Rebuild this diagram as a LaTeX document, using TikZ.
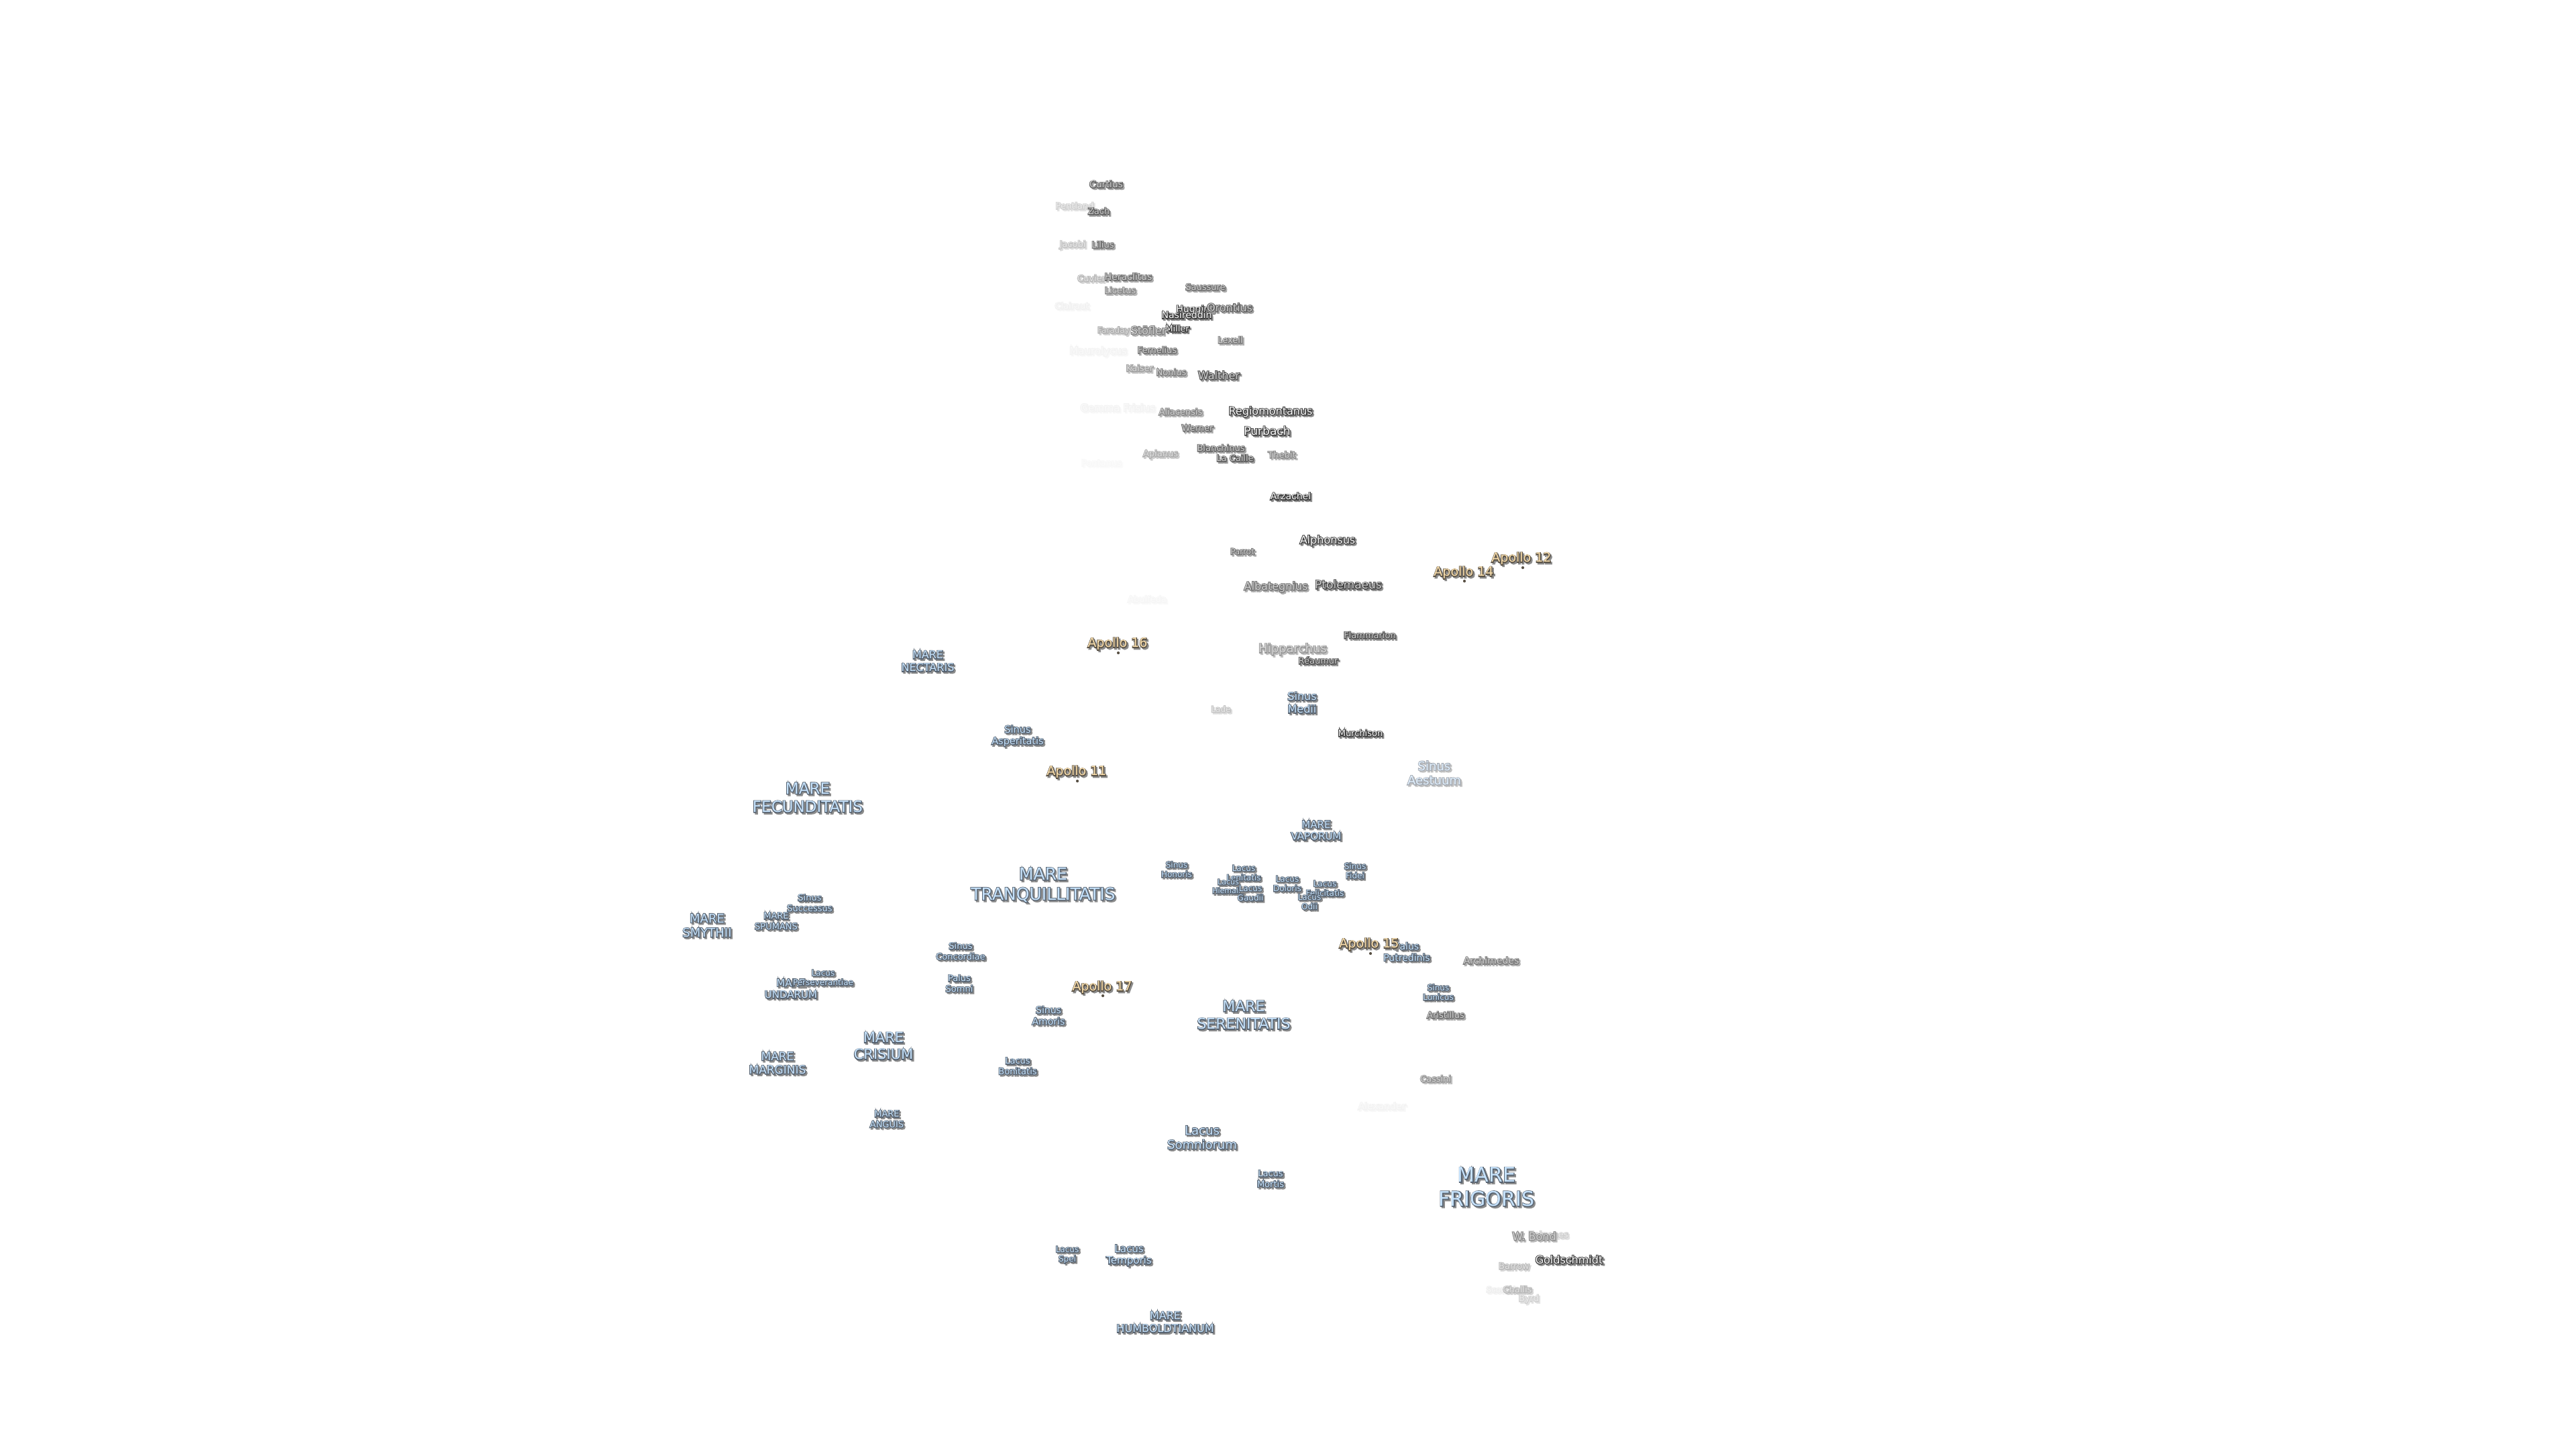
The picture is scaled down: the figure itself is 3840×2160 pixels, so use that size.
\documentclass[tikz,border=0pt]{standalone}
\usepackage{fontspec}
\setmainfont{DejaVu Sans}
\definecolor{marefill}{HTML}{C6E2FB}
\definecolor{mareedge}{HTML}{566270}
\definecolor{craterfill}{HTML}{CFCFCF}
\definecolor{crateredge}{HTML}{3A3A3A}
\definecolor{apollofill}{HTML}{FBE0AE}
\definecolor{apolloedge}{HTML}{5A5246}
\definecolor{lblshadow}{HTML}{8C8C8C}
\newdimen\pxu \pxu=0.2845pt
\newdimen\lblsize \newdimen\lblskip
\newcommand{\lyr}[4]{\rlap{\kern#1\pxu\raisebox{#2\pxu}{\color{#3}\special{pdf:code 2 Tr 0.62 w}\begin{tabular}{@{}c@{}}#4\end{tabular}\special{pdf:code 0 Tr}}}}
\newcommand{\lbl}[2]{\lblsize=#1\pxu \lblskip=1.19\lblsize \fontsize{\the\lblsize}{\the\lblskip}\selectfont
  \lyr{2.2}{-2.2}{\lblshade}{#2}\lyr{0}{0}{\lbledge}{#2}%
  \color{\lblfill}\begin{tabular}{@{}c@{}}#2\end{tabular}}
\tikzset{
  setfade/.code={\pgfmathsetmacro\lblfade{min(100,#1*1.2)}\pgfmathsetmacro\lblwhite{#1>84 ? 10 : min(100,#1*2)}},
  marelabel/.style={inner sep=0pt, yshift=-1pt, setfade=#1, execute at begin node={\def\lblfill{marefill!\lblfade!white}\def\lbledge{mareedge!\lblfade!white}\def\lblshade{lblshadow!\lblfade!white}}},
  marelabel/.default=100,
  craterlabel/.style={inner sep=0pt, yshift=-1pt, setfade=#1, execute at begin node={\def\lblfill{craterfill!\lblwhite!white}\def\lbledge{crateredge!\lblfade!white}\def\lblshade{lblshadow!\lblfade!white}}},
  craterlabel/.default=100,
  apollolabel/.style={inner sep=0pt, yshift=-1pt, execute at begin node={\def\lblfill{apollofill}\def\lbledge{apolloedge}\def\lblshade{lblshadow}}},
  apollodot/.style={fill=apolloedge}
}
\begin{document}
\begin{tikzpicture}[x=0.01cm, y=-0.01cm]
  \useasboundingbox (0,0) rectangle (3840,2160);
  % faint craters first
  \node[craterlabel=20] (pentland) at (1602,306) {\lbl{13}{Pentland}};
  \node[craterlabel=25] (jacobi) at (1599,363) {\lbl{13}{Jacobi}};
  \node[craterlabel=30] (cuvier) at (1627,414) {\lbl{13}{Cuvier}};
  \node[craterlabel=6] (clairaut) at (1598,455) {\lbl{13}{Clairaut}};
  \node[craterlabel=35] (faraday) at (1660,491) {\lbl{12}{Faraday}};
  \node[craterlabel=5] (maurolycus) at (1637,522) {\lbl{15}{Maurolycus}};
  \node[craterlabel=5] (gemma) at (1666,607) {\lbl{15}{Gemma Frisius}};
  \node[craterlabel=3] (pontanus) at (1642,689) {\lbl{13}{Pontanus}};
  \node[craterlabel=4] (abulfeda) at (1710,892) {\lbl{13}{Abulfeda}};
  \node[craterlabel=5] (alexander) at (2060,1648) {\lbl{14}{Alexander}};
  \node[craterlabel=20] (epigenes) at (2308,1839) {\lbl{13}{Epigenes}};
  \node[craterlabel=7] (scoresby) at (2243,1921) {\lbl{12}{Scoresby}};
  % craters
  \node[craterlabel=65] (curtius) at (1649,274) {\lbl{14}{Curtius}};
  \node[craterlabel=70] (zach) at (1638,314) {\lbl{13}{Zach}};
  \node[craterlabel=60] (lilius) at (1644,364) {\lbl{13}{Lilius}};
  \node[craterlabel=60] (heraclitus) at (1682,412) {\lbl{14}{Heraclitus}};
  \node[craterlabel=50] (licetus) at (1670,432) {\lbl{13}{Licetus}};
  \node[craterlabel=60] (saussure) at (1797,427) {\lbl{13}{Saussure}};
  \node[craterlabel=90] (huggins) at (1782,460) {\lbl{14}{Huggins}};
  \node[craterlabel=90] (nasireddin) at (1769,469) {\lbl{14}{Nasireddin}};
  \node[craterlabel=70] (orontius) at (1833,458) {\lbl{16}{Orontius}};
  \node[craterlabel=85] (miller) at (1755,489) {\lbl{13}{Miller}};
  \node[craterlabel=55] (stofler) at (1712,492) {\lbl{16}{Stöfler}};
  \node[craterlabel=55] (lexell) at (1834,506) {\lbl{13}{Lexell}};
  \node[craterlabel=60] (fernelius) at (1725,521) {\lbl{13}{Fernelius}};
  \node[craterlabel=40] (kaiser) at (1699,548) {\lbl{13}{Kaiser}};
  \node[craterlabel=55] (nonius) at (1746,554) {\lbl{13}{Nonius}};
  \node[craterlabel=75] (walther) at (1817,559) {\lbl{16}{Walther}};
  \node[craterlabel=50] (aliacensis) at (1760,613) {\lbl{13}{Aliacensis}};
  \node[craterlabel=85] (regiomontanus) at (1894,612) {\lbl{16}{Regiomontanus}};
  \node[craterlabel=60] (werner) at (1785,637) {\lbl{13}{Werner}};
  \node[craterlabel=90] (purbach) at (1889,642) {\lbl{17}{Purbach}};
  \node[craterlabel=65] (blanchinus) at (1820,667) {\lbl{13}{Blanchinus}};
  \node[craterlabel=70] (lacaille) at (1841,682) {\lbl{13}{La Caille}};
  \node[craterlabel=35] (apianus) at (1730,675) {\lbl{13}{Apianus}};
  \node[craterlabel=50] (thebit) at (1911,677) {\lbl{13}{Thebit}};
  \node[craterlabel=95] (arzachel) at (1924,739) {\lbl{14}{Arzachel}};
  \node[craterlabel=95] (alphonsus) at (1979,804) {\lbl{16}{Alphonsus}};
  \node[craterlabel=60] (parrot) at (1852,821) {\lbl{12}{Parrot}};
  \node[craterlabel=60] (albategnius) at (1902,873) {\lbl{16}{Albategnius}};
  \node[craterlabel=80] (ptolemaeus) at (2010,871) {\lbl{17}{Ptolemaeus}};
  \node[craterlabel=75] (flammarion) at (2042,946) {\lbl{13}{Flammarion}};
  \node[craterlabel=45] (hipparchus) at (1927,966) {\lbl{18}{Hipparchus}};
  \node[craterlabel=75] (reaumur) at (1965,984) {\lbl{13}{Réaumur}};
  \node[craterlabel=25] (lade) at (1820,1056) {\lbl{12}{Lade}};
  \node[craterlabel=90] (murchison) at (2028,1092) {\lbl{13}{Murchison}};
  \node[craterlabel=55] (archimedes) at (2223,1431) {\lbl{14}{Archimedes}};
  \node[craterlabel=60] (aristillus) at (2155,1512) {\lbl{13}{Aristillus}};
  \node[craterlabel=45] (cassini) at (2140,1607) {\lbl{13}{Cassini}};
  \node[craterlabel=50] (wbond) at (2287,1842) {\lbl{16}{W. Bond}};
  \node[craterlabel] (goldschmidt) at (2339,1877) {\lbl{16}{Goldschmidt}};
  \node[craterlabel=30] (barrow) at (2257,1886) {\lbl{13}{Barrow}};
  \node[craterlabel=30] (challis) at (2262,1921) {\lbl{13}{Challis}};
  \node[craterlabel=20] (byrd) at (2279,1934) {\lbl{13}{Byrd}};
  % maria, lakes and bays
  \node[marelabel] (frigoris) at (2216,1770) {\lbl{30}{MARE\\FRIGORIS}};
  \node[marelabel] (tranquillitatis) at (1555,1318) {\lbl{25}{MARE\\TRANQUILLITATIS}};
  \node[marelabel] (fecunditatis) at (1204,1189) {\lbl{23}{MARE\\FECUNDITATIS}};
  \node[marelabel] (serenitatis) at (1854,1513) {\lbl{22}{MARE\\SERENITATIS}};
  \node[marelabel] (crisium) at (1317,1559) {\lbl{21}{MARE\\CRISIUM}};
  \node[marelabel] (smythii) at (1054,1379) {\lbl{18}{MARE\\SMYTHII}};
  \node[marelabel] (marginis) at (1159,1584) {\lbl{17}{MARE\\MARGINIS}};
  \node[marelabel] (nectaris) at (1383,985) {\lbl{16}{MARE\\NECTARIS}};
  \node[marelabel] (vaporum) at (1962,1237) {\lbl{15}{MARE\\VAPORUM}};
  \node[marelabel] (undarum) at (1179,1473) {\lbl{15}{MARE\\UNDARUM}};
  \node[marelabel] (humboldtianum) at (1737,1970) {\lbl{16}{MARE\\HUMBOLDTIANUM}};
  \node[marelabel] (spumans) at (1157,1372) {\lbl{13}{MARE\\SPUMANS}};
  \node[marelabel] (anguis) at (1322,1667) {\lbl{13}{MARE\\ANGUIS}};
  \node[marelabel] (somniorum) at (1792,1695) {\lbl{18}{Lacus\\Somniorum}};
  \node[marelabel] (mortis) at (1894,1756) {\lbl{13}{Lacus\\Mortis}};
  \node[marelabel] (spei) at (1591,1868) {\lbl{12}{Lacus\\Spei}};
  \node[marelabel] (temporis) at (1683,1869) {\lbl{15}{Lacus\\Temporis}};
  \node[marelabel] (bonitatis) at (1517,1588) {\lbl{13}{Lacus\\Bonitatis}};
  \node[marelabel] (perseverantiae) at (1227,1456) {\lbl{12}{Lacus\\Perseverantiae}};
  \node[marelabel] (successus) at (1207,1345) {\lbl{13}{Sinus\\Successus}};
  \node[marelabel] (concordiae) at (1432,1417) {\lbl{13}{Sinus\\Concordiae}};
  \node[marelabel] (somni) at (1430,1465) {\lbl{13}{Palus\\Somni}};
  \node[marelabel] (amoris) at (1563,1513) {\lbl{14}{Sinus\\Amoris}};
  \node[marelabel] (asperitatis) at (1517,1095) {\lbl{14.5}{Sinus\\Asperitatis}};
  \node[marelabel] (medii) at (1941,1047) {\lbl{16}{Sinus\\Medii}};
  \node[marelabel=45] (aestuum) at (2138,1152) {\lbl{18}{Sinus\\Aestuum}};
  \node[marelabel] (honoris) at (1754,1295) {\lbl{12}{Sinus\\Honoris}};
  \node[marelabel] (lenitatis) at (1854,1300) {\lbl{12}{Lacus\\Lenitatis}};
  \node[marelabel] (hiemalis) at (1831,1320) {\lbl{11}{Lacus\\Hiemalis}};
  \node[marelabel] (gaudii) at (1864,1330) {\lbl{12}{Lacus\\Gaudii}};
  \node[marelabel] (doloris) at (1919,1316) {\lbl{12}{Lacus\\Doloris}};
  \node[marelabel] (felicitatis) at (1975,1323) {\lbl{12}{Lacus\\Felicitatis}};
  \node[marelabel] (odii) at (1952,1343) {\lbl{12}{Lacus\\Odii}};
  \node[marelabel] (fidei) at (2020,1297) {\lbl{12}{Sinus\\Fidei}};
  \node[marelabel] (putredinis) at (2097,1418) {\lbl{14}{Palus\\Putredinis}};
  \node[marelabel] (lunicus) at (2144,1478) {\lbl{12}{Sinus\\Lunicus}};
  % landing sites
  \node[apollolabel] (apollo11) at (1605,1149) {\lbl{19}{Apollo 11}};
  \node[apollolabel] (apollo12) at (2268,831) {\lbl{19}{Apollo 12}};
  \node[apollolabel] (apollo14) at (2182,852) {\lbl{19}{Apollo 14}};
  \node[apollolabel] (apollo15) at (2041,1406) {\lbl{19}{Apollo 15}};
  \node[apollolabel] (apollo16) at (1666,958) {\lbl{19}{Apollo 16}};
  \node[apollolabel] (apollo17) at (1643,1470) {\lbl{19}{Apollo 17}};
  \fill[apollodot] (1606,1164) circle (0.6pt);
  \fill[apollodot] (2270,846) circle (0.6pt);
  \fill[apollodot] (2183,866) circle (0.6pt);
  \fill[apollodot] (2043,1421) circle (0.6pt);
  \fill[apollodot] (1667,973) circle (0.6pt);
  \fill[apollodot] (1644,1484) circle (0.6pt);
\end{tikzpicture}
\end{document}
